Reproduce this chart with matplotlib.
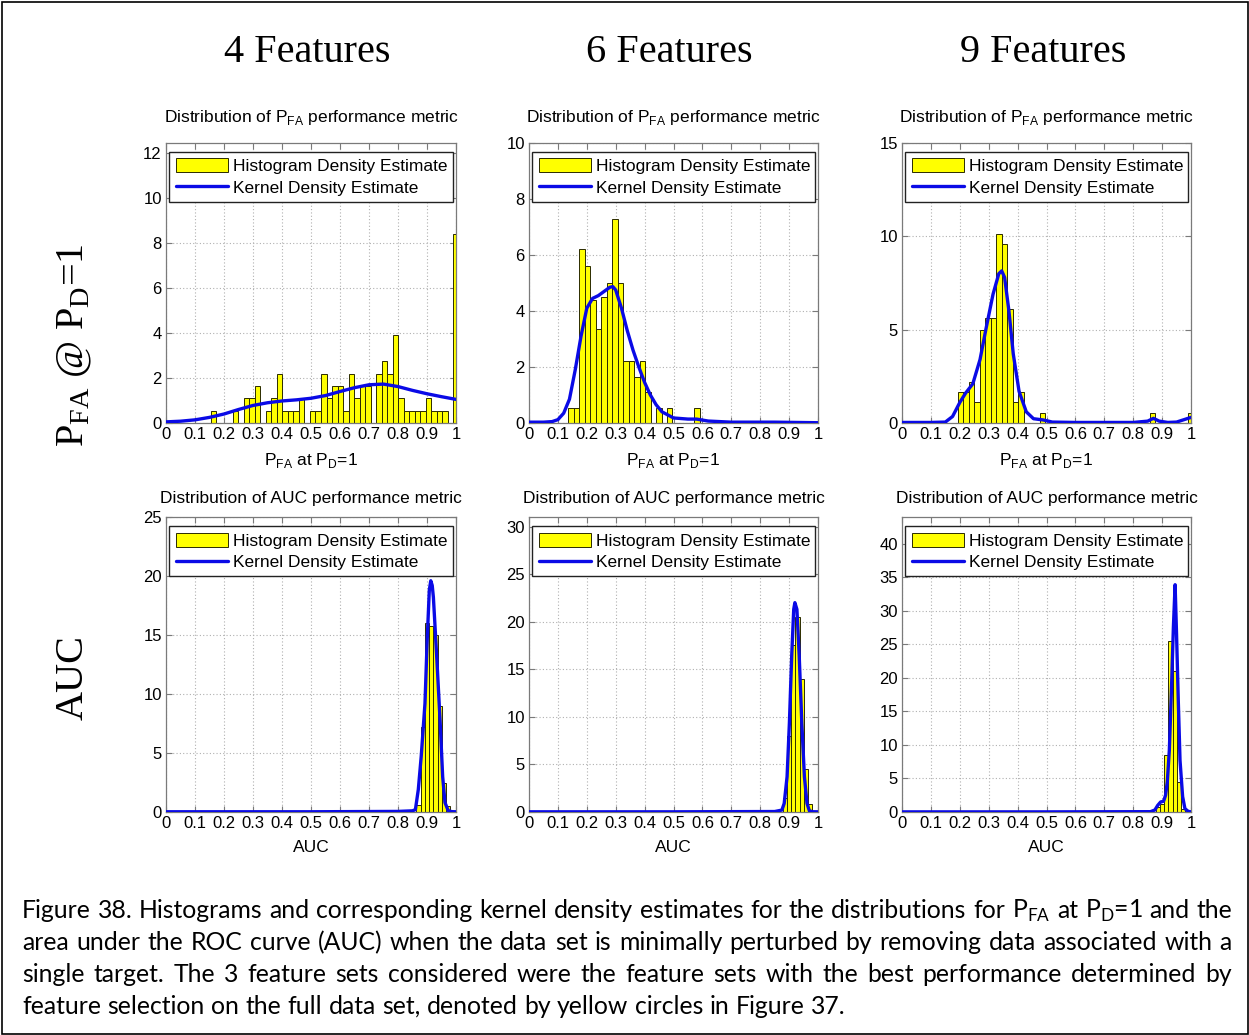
import numpy as np
import matplotlib
matplotlib.use("Agg")
import matplotlib.pyplot as plt
from matplotlib.patches import Rectangle

# ---------------- data ----------------
feature_sets = ["4 Features", "6 Features", "9 Features"]

# P_FA at P_D=1 : histogram density estimate (bin centres, density)
pfa_width = 0.019
pfa_centers = 1.0 - pfa_width * np.arange(52, -1, -1)

pfa4_hist = np.zeros(53)
pfa4_hist[8:] = [0.55, 0, 0, 0, 0.55, 0, 1.1, 1.1, 1.65, 0, 0.55, 1.1, 2.2, 0.55, 0.55,
                 0.55, 1.1, 0, 0.55, 0.55, 2.2, 1.1, 1.65, 1.65, 0.55, 2.2, 1.1, 1.65,
                 1.65, 0, 2.2, 2.75, 2.2, 3.9, 1.1, 0.55, 0.55, 0.55, 0.55, 1.1, 0.55,
                 0.55, 0.55, 0, 8.4]
pfa6_hist = np.zeros(53)
pfa6_hist[7:31] = [0.55, 0.55, 6.2, 5.6, 4.4, 3.35, 4.5, 5.0, 7.3, 5.0, 2.2, 2.2, 1.65,
                   2.2, 1.1, 0, 0.55, 0, 0.55, 0, 0, 0, 0, 0.55]
pfa9_hist = np.zeros(53)
pfa9_hist[10:26] = [1.65, 1.65, 2.2, 1.1, 5.0, 5.6, 5.6, 10.1, 9.6, 6.1, 1.1, 1.65,
                    0, 0, 0, 0.55]
pfa9_hist[45] = 0.55
pfa9_hist[52] = 0.55

# P_FA kernel density estimates
pfa4_kde_x = [0, 0.05, 0.1, 0.15, 0.2, 0.25, 0.3, 0.35, 0.4, 0.45, 0.5, 0.55, 0.6, 0.65,
              0.7, 0.75, 0.8, 0.85, 0.9, 0.95, 1.0]
pfa4_kde_y = [0.05, 0.08, 0.14, 0.25, 0.4, 0.6, 0.78, 0.9, 0.98, 1.03, 1.1, 1.22, 1.4,
              1.57, 1.7, 1.73, 1.62, 1.45, 1.3, 1.17, 1.05]
pfa6_kde_x = [0, 0.05, 0.08, 0.10, 0.12, 0.14, 0.16, 0.18, 0.20, 0.22, 0.24, 0.26, 0.28,
              0.29, 0.30, 0.32, 0.34, 0.36, 0.38, 0.40, 0.42, 0.44, 0.46, 0.50, 0.55,
              0.58, 0.62, 0.70, 0.85, 1.0]
pfa6_kde_y = [0.03, 0.03, 0.05, 0.12, 0.35, 0.85, 1.9, 3.1, 4.1, 4.45, 4.55, 4.7, 4.85,
              4.87, 4.75, 4.1, 3.3, 2.6, 2.0, 1.45, 1.0, 0.65, 0.4, 0.18, 0.14, 0.14,
              0.07, 0.03, 0.03, 0.01]
pfa9_kde_x = [0, 0.1, 0.15, 0.175, 0.2, 0.22, 0.245, 0.27, 0.29, 0.315, 0.335, 0.345,
              0.355, 0.37, 0.385, 0.405, 0.43, 0.455, 0.49, 0.52, 0.6, 0.8, 0.85, 0.87,
              0.89, 0.92, 0.95, 0.98, 1.0]
pfa9_kde_y = [0.03, 0.03, 0.05, 0.35, 1.1, 1.6, 2.1, 3.4, 5.0, 6.9, 8.0, 8.15, 7.8, 6.0,
              3.7, 1.7, 0.6, 0.23, 0.16, 0.05, 0.03, 0.03, 0.1, 0.25, 0.1, 0.03, 0.05,
              0.2, 0.3]

# AUC : histogram density estimate
auc_width = 0.0145
auc_centers = [0.871, 0.886, 0.900, 0.915, 0.929, 0.944, 0.958, 0.973]
auc4_hist = [0.6, 7.2, 16.0, 15.8, 15.0, 9.0, 2.5, 0.5]
auc6_hist = [0, 1.5, 8.0, 17.5, 20.5, 14.0, 4.5, 0.8]
auc9_hist = [0, 0.8, 1.2, 8.5, 25.5, 21.0, 4.5, 0.5]

# AUC kernel density estimates
auc4_kde_x = [0, 0.5, 0.8, 0.85, 0.86, 0.87, 0.88, 0.893, 0.901, 0.908, 0.913, 0.918,
              0.922, 0.933, 0.945, 0.954, 0.962, 0.973, 0.985, 1.0]
auc4_kde_y = [0.02, 0.02, 0.05, 0.1, 0.2, 1.9, 4.7, 9.2, 14.8, 18.8, 19.6, 19.2, 18.2,
              13.4, 7.8, 3.0, 0.8, 0.12, 0.03, 0.02]
auc6_kde_x = [0, 0.5, 0.85, 0.875, 0.883, 0.893, 0.901, 0.909, 0.916, 0.920, 0.927,
              0.935, 0.944, 0.953, 0.962, 0.970, 0.98, 1.0]
auc6_kde_y = [0.02, 0.02, 0.05, 0.2, 0.9, 3.7, 9.35, 16.4, 21.3, 22.0, 21.3, 16.4, 9.35,
              3.7, 0.9, 0.14, 0.03, 0.02]
auc9_kde_x = [0, 0.5, 0.86, 0.875, 0.885, 0.895, 0.905, 0.912, 0.918, 0.925, 0.933,
              0.939, 0.945, 0.950, 0.956, 0.962, 0.971, 0.979, 0.99, 1.0]
auc9_kde_y = [0.02, 0.02, 0.05, 0.3, 1.0, 1.5, 1.6, 2.5, 4.5, 9.2, 19.1, 27.5, 33.9,
              26.5, 16.6, 7.7, 2.3, 0.5, 0.1, 0.02]

pfa_ylims = [12.45, 10, 15]
pfa_yticks = [np.arange(0, 13, 2), np.arange(0, 11, 2), np.arange(0, 16, 5)]
auc_ylims = [25, 31, 44]
auc_yticks = [np.arange(0, 26, 5), np.arange(0, 31, 5), np.arange(0, 41, 5)]
xticks = np.round(np.arange(0, 1.01, 0.1), 1)
xticklabels = ["0"] + ["%.1f" % v for v in xticks[1:-1]] + ["1"]

caption_lines = [
    "Figure 38.  Histograms and corresponding kernel density estimates for the distributions "
    "for P$_{\\mathregular{FA}}$ at P$_{\\mathregular{D}}$=1 and the",
    "area under the ROC curve (AUC) when the data set is minimally perturbed by removing "
    "data associated with a",
    "single target.  The 3 feature sets considered were the feature sets with the best "
    "performance determined by",
    "feature selection on the full data set, denoted by yellow circles in Figure 37.",
]

# ---------------- figure ----------------
W, H = 1249, 1035
fig = plt.figure(figsize=(W / 100, H / 100), dpi=100)
fig.patch.set_facecolor("white")

SANS = "Liberation Sans"
SERIF = "Liberation Serif"
BAR_COLOR = "#ffff00"
BAR_EDGE = "#2b2b00"
KDE_COLOR = "#0a0ae6"
FRAME = "#7a7a7a"


def px_axes(x0, y0, x1, y1):
    return fig.add_axes([x0 / W, 1 - y1 / H, (x1 - x0) / W, (y1 - y0) / H])


def style_axes(ax, handles, ylim, yticks, title, xlabel, title_pad):
    ax.set_xlim(0, 1)
    ax.set_ylim(0, ylim)
    ax.set_xticks(xticks)
    ax.set_xticklabels(xticklabels)
    ax.set_yticks(yticks)
    ax.set_axisbelow(True)
    ax.grid(True, linestyle=(0, (1, 2)), color="#b0b0b0", linewidth=0.8)
    ax.tick_params(direction="in", top=True, right=True, length=4, width=0.8,
                   color=FRAME, labelsize=12, pad=3)
    for lab in ax.get_xticklabels() + ax.get_yticklabels():
        lab.set_family(SANS)
    for s in ax.spines.values():
        s.set_color(FRAME)
        s.set_linewidth(0.9)
    ax.set_title(title, fontsize=12.5, family=SANS, pad=title_pad)
    ax.set_xlabel(xlabel, fontsize=12.5, family=SANS, labelpad=6)
    leg = ax.legend(handles=handles, loc="upper left",
                    bbox_to_anchor=(0.012, 0, 0.978, 0.968),
                    mode="expand", prop={"family": SANS, "size": 12.5},
                    handlelength=3.0, handleheight=0.9, handletextpad=0.3,
                    borderpad=0.35, labelspacing=0.3, fancybox=False, framealpha=1,
                    edgecolor="#222222", borderaxespad=0)
    leg.get_frame().set_linewidth(1.0)


def draw_panel(ax, centers, heights, width, kx, ky):
    centers = np.asarray(centers)
    heights = np.asarray(heights, dtype=float)
    nz = np.nonzero(heights)[0]
    sl = slice(nz[0], nz[-1] + 1)
    bars = ax.bar(centers[sl], heights[sl], width=width, color=BAR_COLOR,
                  edgecolor=BAR_EDGE, linewidth=0.7,
                  label="Histogram Density Estimate", zorder=2)
    line, = ax.plot(kx, ky, color=KDE_COLOR, linewidth=2.4,
                    label="Kernel Density Estimate", zorder=3, solid_capstyle="round")
    return [bars, line]


col_x = [(166, 456), (529, 818), (902, 1191)]
pfa_hist = [pfa4_hist, pfa6_hist, pfa9_hist]
pfa_kde = [(pfa4_kde_x, pfa4_kde_y), (pfa6_kde_x, pfa6_kde_y), (pfa9_kde_x, pfa9_kde_y)]
auc_hist = [auc4_hist, auc6_hist, auc9_hist]
auc_kde = [(auc4_kde_x, auc4_kde_y), (auc6_kde_x, auc6_kde_y), (auc9_kde_x, auc9_kde_y)]

pfa_title = "Distribution of P$_{\\mathregular{FA}}$ performance metric"
pfa_xlabel = "P$_{\\mathregular{FA}}$ at P$_{\\mathregular{D}}$=1"

for i, (x0, x1) in enumerate(col_x):
    ax = px_axes(x0, 143, x1, 423)
    h = draw_panel(ax, pfa_centers, pfa_hist[i], pfa_width, *pfa_kde[i])
    style_axes(ax, h, pfa_ylims[i], pfa_yticks[i], pfa_title, pfa_xlabel, 15)

    ax = px_axes(x0, 517, x1, 812)
    h = draw_panel(ax, auc_centers, auc_hist[i], auc_width, *auc_kde[i])
    style_axes(ax, h, auc_ylims[i], auc_yticks[i],
               "Distribution of AUC performance metric", "AUC", 10)

    fig.text((x0 + x1) / 2 / W - 0.003, 1 - 53 / H, feature_sets[i], family=SERIF,
             fontsize=29, ha="center", va="center")

# row labels
fig.text(75 / W, 1 - 345 / H, "P$_{\\mathregular{FA}}$ @ P$_{\\mathregular{D}}$=1",
         family=SERIF, fontsize=29, rotation=90, ha="center", va="center")
fig.text(73 / W, 1 - 678 / H, "AUC", family=SERIF, fontsize=29, rotation=90,
         ha="center", va="center")

# caption, justified line by line
renderer = fig.canvas.get_renderer()
cap_font = "Lato"
left, right = 22, 1232
probe = fig.text(0, 0, caption_lines[-1], family=cap_font, fontsize=14)
scale = 823 / probe.get_window_extent(renderer).width
probe.remove()
cap_size = 14 * scale
space_t = fig.text(0, 0, "a a", family=cap_font, fontsize=cap_size)
nospace_t = fig.text(0, 0, "aa", family=cap_font, fontsize=cap_size)
space_w = (space_t.get_window_extent(renderer).width
           - nospace_t.get_window_extent(renderer).width)
space_t.remove()
nospace_t.remove()

line_y = [918, 950, 982, 1014]
for li, line in enumerate(caption_lines):
    words = line.split()
    texts = [fig.text(0, 1 - line_y[li] / H, w, family=cap_font, fontsize=cap_size,
                      va="baseline", ha="left") for w in words]
    widths = [t.get_window_extent(renderer).width for t in texts]
    if li < len(caption_lines) - 1:
        gap = (right - left - sum(widths)) / (len(words) - 1)
    else:
        gap = space_w
    x = left
    for t, w in zip(texts, widths):
        t.set_x(x / W)
        x += w + gap

# outer frame
fig.add_artist(Rectangle((1.5 / W, 1.5 / H), (W - 3) / W, (H - 3) / H,
                         transform=fig.transFigure, fill=False, edgecolor="black",
                         linewidth=1.2))

fig.savefig("out.png", dpi=100, facecolor="white")
